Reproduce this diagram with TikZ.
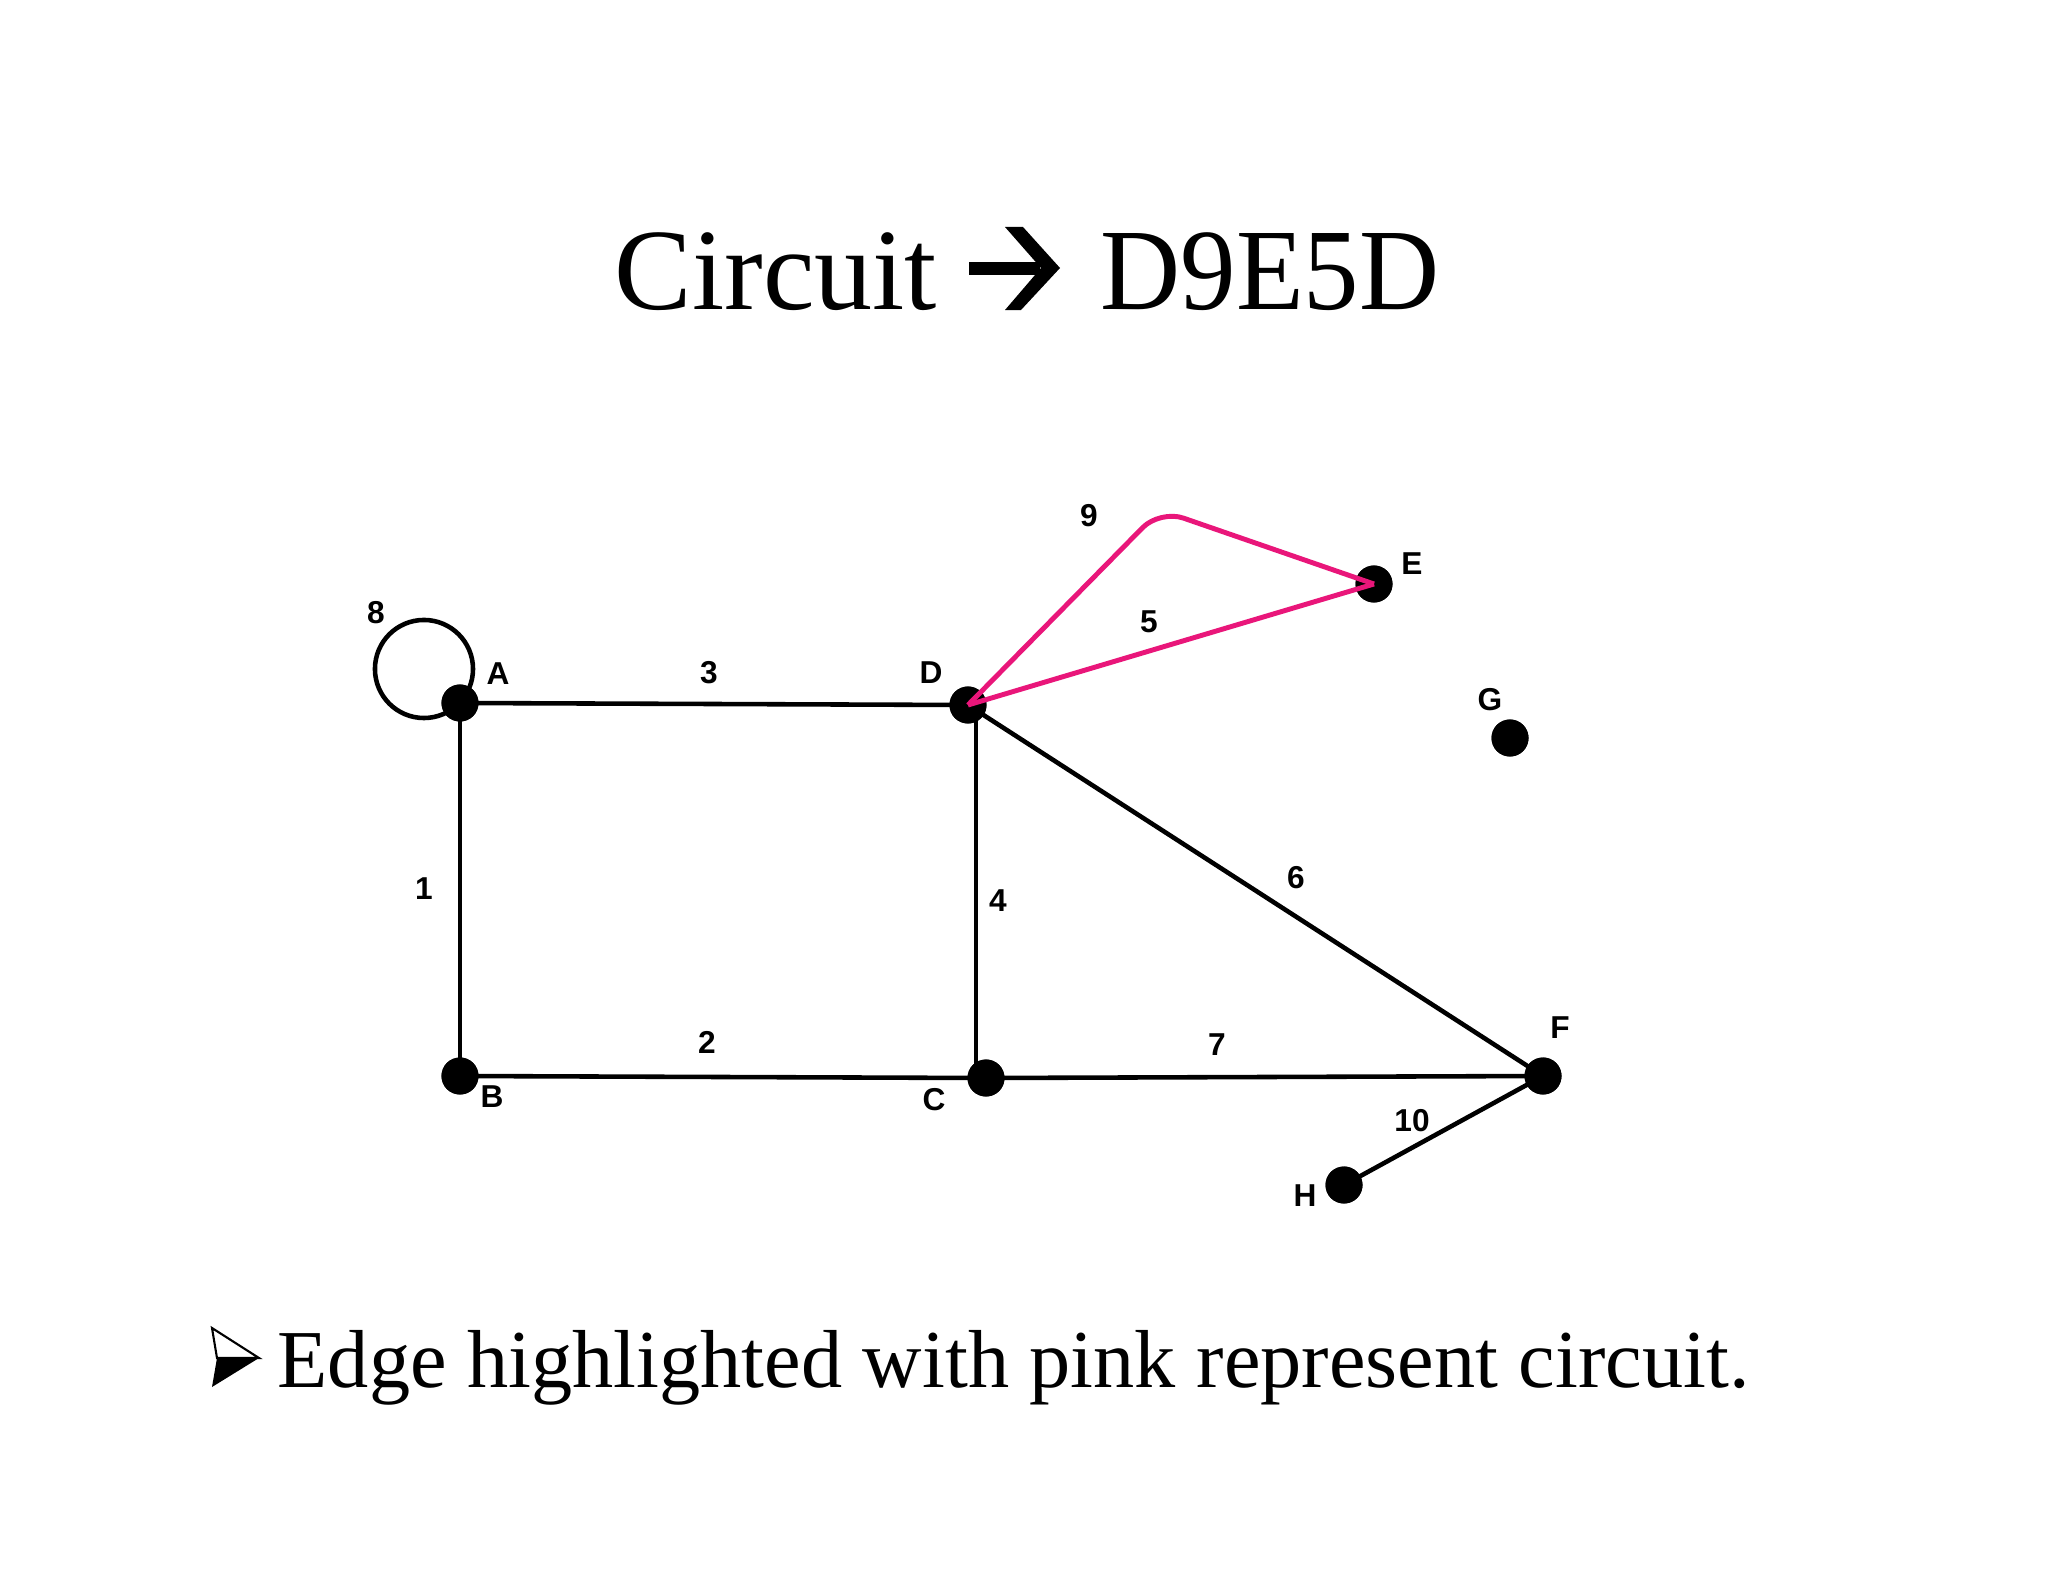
\documentclass[tikz,border=0pt]{standalone}
\usepackage{fontspec}
\setmainfont{Liberation Serif}
\newfontfamily\lblfont{Liberation Sans}
\usetikzlibrary{calc}
\definecolor{pinkedge}{RGB}{233,22,122}
\tikzset{
  vdot/.style={circle,fill=black,inner sep=0pt,minimum size=0.37cm},
  lbl/.style={font=\lblfont\fontsize{9}{9}\selectfont\bfseries,inner sep=0pt},
  bedge/.style={draw=black,line width=1.3pt},
  pedge/.style={draw=pinkedge,line width=1.4pt},
  titletxt/.style={font=\fontsize{33}{33}\selectfont,inner sep=0pt,anchor=base west},
  bullettxt/.style={font=\fontsize{23.4}{24}\selectfont,inner sep=0pt,anchor=base west},
}
\begin{document}
\begin{tikzpicture}[x=0.01cm,y=-0.01cm]
\fill[white] (0,0) rectangle (2048,1582);
\useasboundingbox (0,0) rectangle (2048,1582);
% title
\node[titletxt] (t1) at (614,310) {Circuit};
\fill (969,262) rectangle (1040,275);
\fill (1005,227) -- (1023,227) -- (1060,268) -- (1021,310) -- (1005,310) -- (1041,268) -- cycle;
\node[titletxt,xscale=0.955] (t2) at (1100,310) {D9E5D};
% bullet
\draw[line width=0.6pt,fill=white,line join=miter] (212,1328) -- (259,1358) -- (217,1358) -- cycle;
\fill (217,1358) -- (259,1358) -- (212,1387) -- cycle;
\node[bullettxt] (bt) at (277,1387) {Edge highlighted with pink represent circuit.};
% vertices
\node[vdot] (A) at (460,703) {};
\node[vdot] (B) at (460,1076) {};
\node[vdot] (C) at (986,1078) {};
\node[vdot] (D) at (968,705) {};
\node[vdot] (E) at (1374,584) {};
\node[vdot] (F) at (1543,1076) {};
\node[vdot] (G) at (1510,738) {};
\node[vdot] (H) at (1344,1185) {};
% black edges
\draw[bedge] (A.center) -- (B.center);
\draw[bedge] (B.center) -- (C.center);
\draw[bedge] (A.center) -- (D.center);
\draw[bedge] ($(D.center)+(8,0)$) -- ($(C.center)+(-10,0)$);
\draw[bedge] (D.center) -- (F.center);
\draw[bedge] (C.center) -- (F.center);
\draw[bedge] (F.center) -- (H.center);
\draw[bedge] ($(A.center)+(-0.36cm,0.34cm)$) circle (0.49cm);
% redraw dots on top
\foreach \n in {A,B,C,D,E,F,G,H} {\fill (\n.center) circle (0.185cm);}
% pink edges
\coordinate (P9) at (1160,510);
\draw[pedge,rounded corners=7pt] (D.center) -- (P9) -- (E.center);
\draw[pedge] (D.center) -- (E.center);
% labels
\node[lbl] (l8) at (376,613) {8};
\node[lbl] (lA) at (498,674) {A};
\node[lbl] (l3) at (709,673) {3};
\node[lbl] (lD) at (931,673) {D};
\node[lbl] (l9) at (1089,516) {9};
\node[lbl] (l5) at (1149,622) {5};
\node[lbl] (lE) at (1412,564) {E};
\node[lbl] (lG) at (1490,700) {G};
\node[lbl] (l1) at (424,889) {1};
\node[lbl] (l4) at (998,901) {4};
\node[lbl] (l6) at (1296,878) {6};
\node[lbl] (l2) at (707,1042) {2};
\node[lbl] (l7) at (1217,1045) {7};
\node[lbl] (lF) at (1560,1028) {F};
\node[lbl] (lB) at (492,1097) {B};
\node[lbl] (lC) at (934,1100) {C};
\node[lbl] (l10) at (1412,1121) {10};
\node[lbl] (lH) at (1305,1196) {H};
\end{tikzpicture}
\end{document}
